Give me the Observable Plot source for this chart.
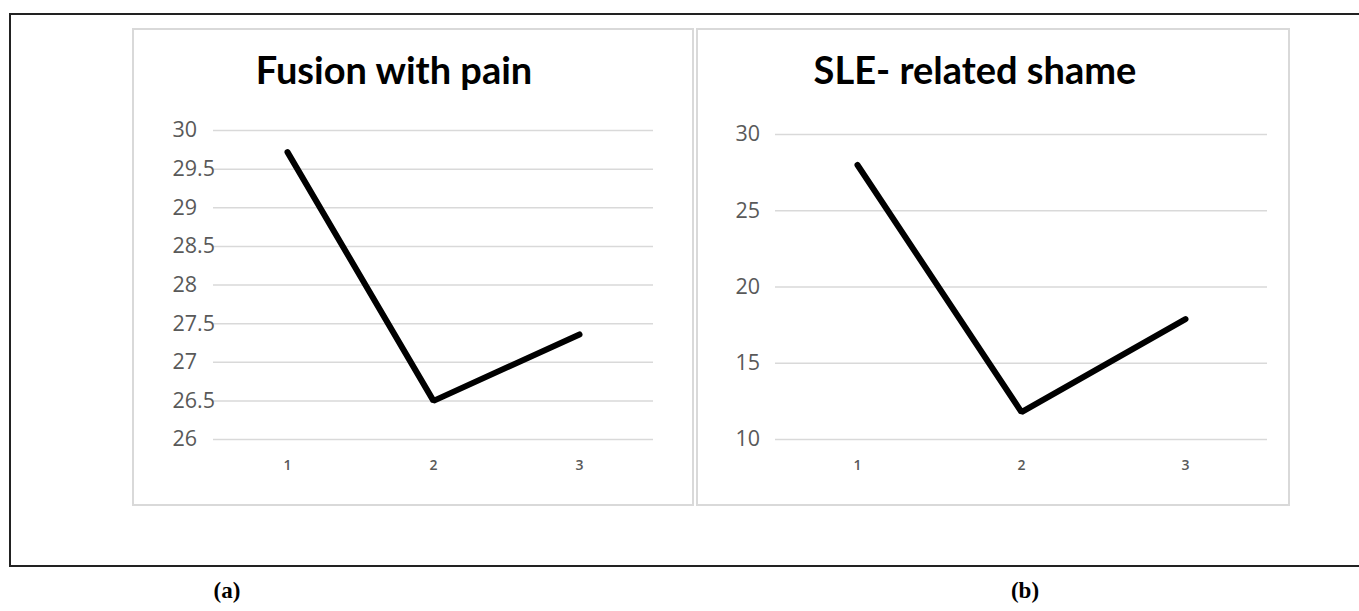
<!DOCTYPE html>
<html>
<head>
<meta charset="utf-8">
<script src="https://cdn.jsdelivr.net/npm/d3@7"></script>
<script src="https://cdn.jsdelivr.net/npm/@observablehq/plot@0.6"></script>
<style>
  html, body { margin: 0; padding: 0; background: #fff; width: 1359px; height: 611px; overflow: hidden; position: relative; }
  .frame { position: absolute; left: 9px; top: 13px; width: 1400px; height: 550px; border: 2px solid #222; box-sizing: content-box; }
  .panel { position: absolute; border: 2px solid #d9d9d9; box-sizing: border-box; background: #fff; }
  .title { position: absolute; font-family: Lato, "Open Sans", sans-serif; font-weight: 700; font-size: 38px; color: #000; white-space: nowrap; transform: translateX(-50%); line-height: 1; }
  .plot { position: absolute; }
  .sub { position: absolute; font-family: "Liberation Serif", "DejaVu Serif", serif; font-weight: 700; font-size: 23px; color: #000; transform: translateX(-50%); line-height: 1; }
</style>
</head>
<body>
<div class="frame"></div>
<div class="panel" style="left:132px; top:28px; width:562px; height:478px;"></div>
<div class="panel" style="left:696px; top:28px; width:594px; height:478px;"></div>
<div class="title" style="left:394px; top:50px;">Fusion with pain</div>
<div class="title" style="left:975px; top:50px;">SLE- related shame</div>
<div class="plot" id="plotA" style="left:132px; top:100px;"></div>
<div class="plot" id="plotB" style="left:697px; top:100px;"></div>
<div class="sub" style="left:227px; top:579px;">(a)</div>
<div class="sub" style="left:1025px; top:579px;">(b)</div>
<script>
const timepoints = [1, 2, 3];
const fusionWithPain = [29.72, 26.5, 27.36];
const sleRelatedShame = [28.0, 11.8, 17.9];
const fusionTicks = [26, 26.5, 27, 27.5, 28, 28.5, 29, 29.5, 30];
const shameTicks = [10, 15, 20, 25, 30];

function makePlot(values, ticks, domain, opts) {
  const data = timepoints.map((t, i) => ({t, v: values[i]}));
  return Plot.plot({
    width: opts.width,
    height: 405,
    marginLeft: opts.marginLeft,
    marginRight: opts.marginRight,
    marginTop: opts.marginTop,
    marginBottom: 66,
    style: {background: "transparent", fontFamily: "'Open Sans', sans-serif", overflow: "visible"},
    x: {type: "point", domain: timepoints},
    y: {domain: domain},
    marks: [
      Plot.gridY(ticks, {stroke: "#d9d9d9", strokeOpacity: 1, strokeWidth: 1.5}),
      Plot.axisY(ticks, {tickSize: 0, tickPadding: 0, textAnchor: "start", dx: opts.labelDx, fontSize: 21.5, fill: "#595959", label: null, tickFormat: d => String(d)}),
      Plot.axisX({tickSize: 0, tickPadding: 21, fontSize: 14, fontWeight: 600, fill: "#595959", label: null}),
      Plot.line(data, {x: "t", y: "v", stroke: "#000", strokeWidth: 6, strokeLinecap: "round", strokeLinejoin: "miter"})
    ]
  });
}

document.getElementById("plotA").appendChild(
  makePlot(fusionWithPain, fusionTicks, [26, 30], {width: 561, marginLeft: 81, marginRight: 40, marginTop: 30, labelDx: -41})
);
document.getElementById("plotB").appendChild(
  makePlot(sleRelatedShame, shameTicks, [10, 30], {width: 592, marginLeft: 78, marginRight: 22, marginTop: 34, labelDx: -40})
);
</script>
</body>
</html>
